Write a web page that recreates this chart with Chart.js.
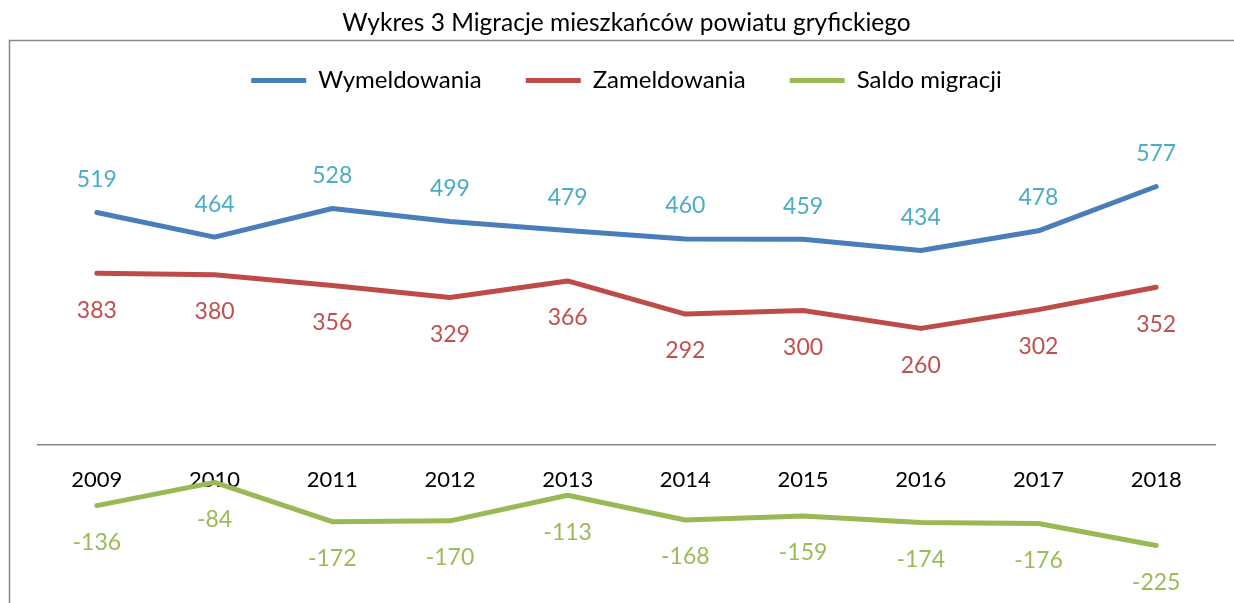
<!DOCTYPE html>
<html>
<head>
<meta charset="utf-8">
<script src="https://cdn.jsdelivr.net/npm/chart.js@4"></script>
<style>
  html, body { margin: 0; padding: 0; background: #fff; overflow: hidden; }
  #wrap { width: 1234px; height: 603px; position: relative; }
</style>
</head>
<body>
<div id="wrap"><canvas id="chart"></canvas></div>
<script>
const years = ['2009', '2010', '2011', '2012', '2013', '2014', '2015', '2016', '2017', '2018'];
const wymeldowania = [519, 464, 528, 499, 479, 460, 459, 434, 478, 577];
const zameldowania = [383, 380, 356, 329, 366, 292, 300, 260, 302, 352];
const saldo = [-136, -84, -172, -170, -113, -168, -159, -174, -176, -225];

const FONT = 'Lato, "Open Sans", sans-serif';

// frame around the chart (left + top only, like the source)
const framePlugin = {
  id: 'frame',
  beforeDraw(chart) {
    const ctx = chart.ctx;
    ctx.save();
    ctx.strokeStyle = '#868686';
    ctx.lineWidth = 1.5;
    ctx.beginPath();
    ctx.moveTo(9.5, 603);
    ctx.lineTo(9.5, 40.5);
    ctx.lineTo(1234, 40.5);
    ctx.stroke();
    ctx.restore();
  }
};

// value labels next to each point
const valueLabels = {
  id: 'valueLabels',
  afterDatasetsDraw(chart) {
    const ctx = chart.ctx;
    ctx.save();
    ctx.font = '23px ' + FONT;
    ctx.textAlign = 'center';
    ctx.textBaseline = 'middle';
    chart.data.datasets.forEach((ds, i) => {
      const meta = chart.getDatasetMeta(i);
      ctx.fillStyle = ds.labelColor;
      meta.data.forEach((pt, j) => {
        ctx.fillText(String(ds.data[j]), pt.x, pt.y + ds.labelOffset);
      });
    });
    ctx.restore();
  }
};

new Chart(document.getElementById('chart'), {
  type: 'line',
  data: {
    labels: years,
    datasets: [
      {
        label: 'Wymeldowania',
        data: wymeldowania,
        borderColor: '#4A7EBB',
        backgroundColor: '#4A7EBB',
        borderWidth: 5,
        labelColor: '#4BACC6',
        labelOffset: -33
      },
      {
        label: 'Zameldowania',
        data: zameldowania,
        borderColor: '#BE4B48',
        backgroundColor: '#BE4B48',
        borderWidth: 5,
        labelColor: '#C0504D',
        labelOffset: 37
      },
      {
        label: 'Saldo migracji',
        data: saldo,
        borderColor: '#98B954',
        backgroundColor: '#98B954',
        borderWidth: 5,
        labelColor: '#9BBB59',
        labelOffset: 37
      }
    ]
  },
  options: {
    responsive: true,
    maintainAspectRatio: false,
    animation: false,
    clip: false,
    layout: { padding: { left: 38, right: 19, top: 0, bottom: 24 } },
    elements: {
      line: { borderWidth: 5, borderCapStyle: 'round', borderJoinStyle: 'round', tension: 0 },
      point: { radius: 0, hoverRadius: 0 }
    },
    plugins: {
      title: {
        display: true,
        text: 'Wykres 3 Migracje mieszkańców powiatu gryfickiego',
        color: '#000',
        font: { family: FONT, size: 24.5, weight: 'normal' },
        padding: { top: 8, bottom: -13 }
      },
      legend: {
        display: true,
        labels: {
          usePointStyle: true,
          pointStyle: 'line',
          pointStyleWidth: 55,
          boxWidth: 55,
          padding: 44,
          color: '#000',
          font: { family: FONT, size: 24 }
        }
      },
      tooltip: { enabled: false }
    },
    scales: {
      x: {
        position: { y: 0 },
        offset: true,
        grid: { display: false, drawTicks: false },
        border: { display: true, color: '#868686', width: 1.5 },
        ticks: { color: '#000', padding: 22, font: { family: FONT, size: 22 }, maxRotation: 0 }
      },
      y: {
        display: false,
        min: -300,
        max: 765
      }
    }
  },
  plugins: [framePlugin, valueLabels]
});
</script>
</body>
</html>
